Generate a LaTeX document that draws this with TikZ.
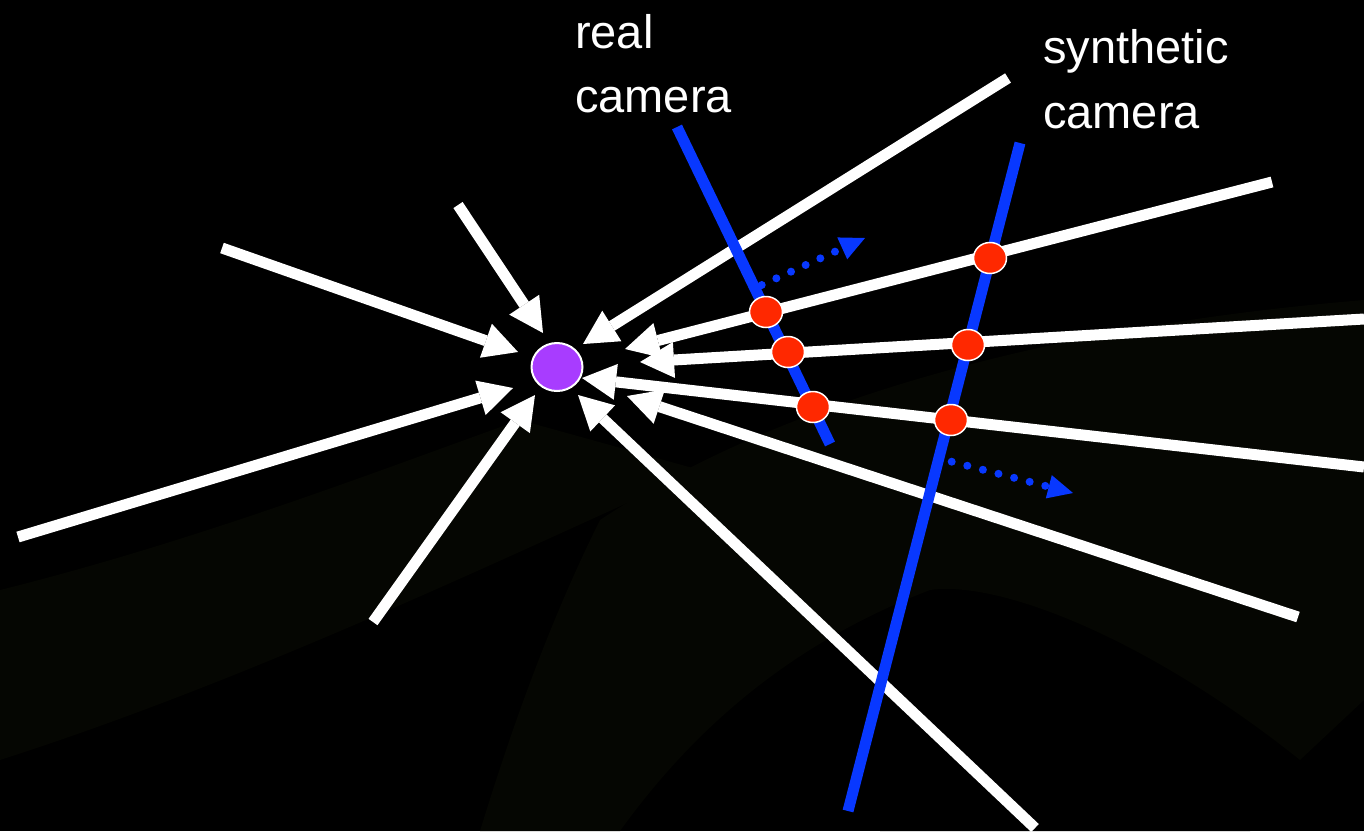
\documentclass[tikz,border=0pt]{standalone}
\usepackage{fontspec}
\setmainfont{Liberation Sans}
\usetikzlibrary{arrows.meta,shapes.geometric}

\definecolor{camblue}{RGB}{8,56,255}
\definecolor{hitred}{RGB}{255,40,0}
\definecolor{ptpurple}{RGB}{168,60,255}
\definecolor{bandgreen}{RGB}{5,6,2}

\begin{document}
\begin{tikzpicture}[x=1pt,y=-1pt,
  ray/.style={draw=white,line width=11pt,line cap=butt,
    -{Triangle[width=36pt,length=34pt,line width=0pt]}},
  camline/.style={draw=camblue,line width=11pt,line cap=butt},
  hit/.style={ellipse,draw=white,line width=1.5pt,fill=hitred,
    minimum width=33pt,minimum height=31pt,inner sep=0pt},
  point/.style={ellipse,draw=white,line width=2pt,fill=ptpurple,
    minimum width=51pt,minimum height=48pt,inner sep=0pt},
  motion/.style={draw=camblue,line width=8pt,line cap=round,
    dash pattern=on 0pt off 16.1pt,
    -{Triangle[width=24pt,length=25pt,line width=0pt]}},
  lbl/.style={text=white,anchor=base west,inner sep=0pt,
    font=\fontsize{47}{64}\selectfont}]

% canvas and faint background swooshes
\fill[black] (0,0) rectangle (1364,831);
\useasboundingbox (0,0) rectangle (1364,831);
\fill[bandgreen] (0,590) .. controls (200,540) and (380,470) .. (520,420)
  -- (700,470) .. controls (500,560) and (250,680) .. (0,760) -- cycle;
\fill[bandgreen] (600,520) .. controls (750,420) and (1000,330) .. (1364,300)
  -- (1364,700) -- (1300,760) .. controls (1150,640) and (1000,580) .. (930,590)
  .. controls (800,640) and (700,720) .. (620,831) -- (480,831)
  .. controls (520,700) and (560,600) .. (600,520) -- cycle;
\fill[black] (930,600) -- (1260,760) -- (1250,831) -- (880,831) -- cycle;

% scene point
\node[point] (P) at (557,367) {};

% outer ends and tips of the rays
\coordinate (o1) at (458,205);   \coordinate (t1) at (543,333);
\coordinate (o2) at (222,248);   \coordinate (t2) at (518,352);
\coordinate (o3) at (18,537);    \coordinate (t3) at (513,388);
\coordinate (o4) at (373,622);   \coordinate (t4) at (535,395);
\coordinate (o5) at (1035,828);  \coordinate (t5) at (578,395);
\coordinate (o6) at (1298,617);  \coordinate (t6) at (627,396);
\coordinate (o7) at (1364,467);  \coordinate (t7) at (582,378);
\coordinate (o8) at (1364,319);  \coordinate (t8) at (640,362);
\coordinate (o9) at (1272,182);  \coordinate (t9) at (625,349);
\coordinate (o10) at (1008,78);  \coordinate (t10) at (583,344);

\foreach \i in {1,...,10} {\draw[ray] (o\i) -- (t\i);}

% image planes of the two cameras
\coordinate (rc1) at (677,127);  \coordinate (rc2) at (830,444);
\coordinate (sc1) at (1020,143); \coordinate (sc2) at (848,811);
\draw[camline] (rc1) -- (rc2);
\draw[camline] (sc1) -- (sc2);

% ray samples on the image planes
\node[hit] (r1) at (766,312) {};
\node[hit] (r2) at (788,352) {};
\node[hit] (r3) at (813,407) {};
\node[hit] (s1) at (990,258) {};
\node[hit] (s2) at (968,345) {};
\node[hit] (s3) at (951,420) {};

% camera motion
\coordinate (m1a) at (761.7,285); \coordinate (m1b) at (865,238);
\coordinate (m2a) at (951.7,461.7); \coordinate (m2b) at (1073,493);
\draw[motion] (m1a) -- (m1b);
\draw[motion] (m2a) -- (m2b);

% labels
\node[lbl] (real1) at (575,48) {real};
\node[lbl] (real2) at (575,112) {camera};
\node[lbl] (syn1) at (1043,63) {synthetic};
\node[lbl] (syn2) at (1043,128) {camera};
\end{tikzpicture}
\end{document}
